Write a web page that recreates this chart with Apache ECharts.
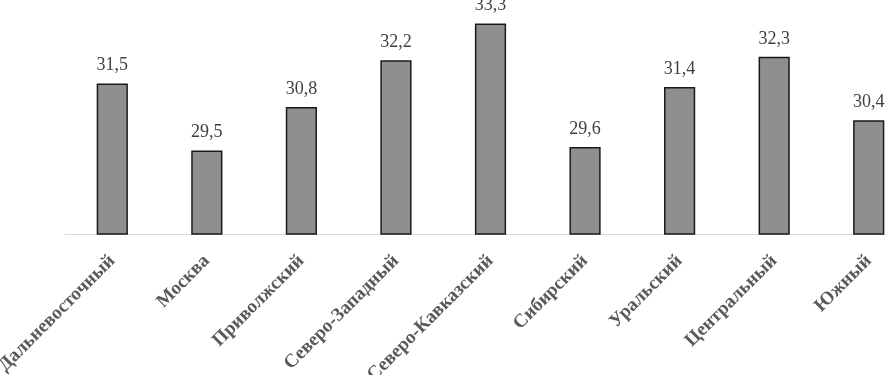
<!DOCTYPE html>
<html>
<head>
<meta charset="utf-8">
<script src="https://cdn.jsdelivr.net/npm/echarts@6/dist/echarts.min.js"></script>
<style>
  html, body { margin: 0; padding: 0; background: #fff; }
  #chart { width: 885px; height: 375px; }
</style>
</head>
<body>
<div id="chart"></div>
<script>
const regions = [
  "Дальневосточный", "Москва", "Приволжский", "Северо-Западный",
  "Северо-Кавказский", "Сибирский", "Уральский", "Центральный", "Южный",
];
const values = [31.5, 29.5, 30.8, 32.2, 33.3, 29.6, 31.4, 32.3, 30.4];

const chart = echarts.init(document.getElementById("chart"));

const option = {
  animation: false,
  grid: { left: 65, top: 0, width: 851, height: 234, outerBoundsMode: "none", containLabel: false },
  xAxis: {
    type: "category",
    data: regions,
    axisLine: { lineStyle: { color: "#d9d9d9", width: 1 } },
    axisTick: { show: false },
    axisLabel: {
      rotate: 45,
      interval: 0,
      margin: 24,
      color: "#595959",
      fontFamily: "Liberation Serif",
      fontWeight: "bold",
      fontSize: 19,
    },
  },
  yAxis: {
    type: "value",
    min: 27,
    max: 34,
    show: false,
    splitLine: { show: false },
  },
  series: [
    {
      type: "bar",
      data: values,
      barWidth: "33%",
      itemStyle: { color: "#8f8f8f", borderColor: "#1a1a1a", borderWidth: 1.5 },
      label: {
        show: true,
        position: "top",
        distance: 9,
        color: "#404040",
        fontFamily: "Liberation Serif",
        fontSize: 18,
        formatter: (p) => p.value.toFixed(1).replace(".", ","),
      },
    },
  ],
};

chart.setOption(option);
</script>
</body>
</html>
